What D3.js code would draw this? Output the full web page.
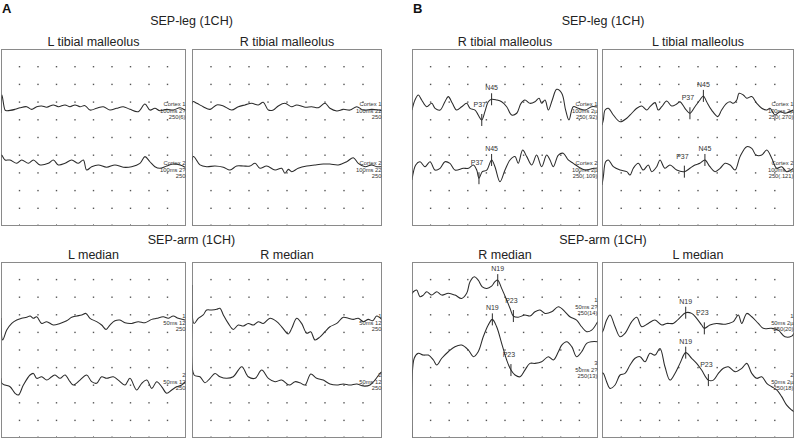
<!DOCTYPE html>
<html><head><meta charset="utf-8">
<script src="https://cdn.jsdelivr.net/npm/d3@7"></script>
<style>body{margin:0;background:#fff}svg{display:block;font-family:"Liberation Sans",Arial,sans-serif}</style>
</head><body><svg id="c" width="795" height="440"></svg>
<script>
// ---------- DATA (sweep % of window, amplitude in % of panel height) ----------
const figureLetters = ["A", "B"];
const sectionTitles = ["SEP-leg (1CH)", "SEP-arm (1CH)"];
const panelTitlesA = [["L tibial malleolus", "R tibial malleolus"], ["L median", "R median"]];
const panelTitlesB = [["R tibial malleolus", "L tibial malleolus"], ["R median", "L median"]];

const A_leg_L_1 = [[0,63.8],[0.5,74.0],[2.2,65.5],[3.1,65.1],[7.6,65.9],[10.3,66.8],[13.9,67.4],[16.6,65.9],[19.3,67.4],[22.0,67.8],[24.7,67.1],[28.3,68.4],[31.0,67.4],[34.6,68.4],[37.3,67.4],[40.0,68.4],[42.7,67.4],[45.4,68.0],[48.1,65.5],[51.7,66.5],[55.3,67.4],[58.9,65.5],[62.5,66.5],[66.1,67.4],[69.7,65.9],[74.2,64.6],[77.8,68.9],[80.5,65.5],[83.2,66.5],[85.9,65.1],[89.6,65.9],[93.1,65.5],[96.8,66.8],[99.5,65.5]];
const A_leg_L_2 = [[0,31.6],[0.3,40.1],[2.2,37.3],[4.9,37.3],[8.5,35.4],[11.2,37.3],[14.8,35.4],[17.5,37.3],[21.1,34.5],[25.6,35.4],[28.3,37.3],[31.0,34.5],[34.6,35.4],[38.2,37.3],[41.8,35.4],[44.5,37.3],[46.3,31.6],[49.0,33.5],[52.6,34.5],[57.1,33.2],[61.6,34.5],[66.1,33.2],[70.6,33.5],[75.1,35.4],[77.8,39.2],[80.5,36.3],[83.2,33.5],[85.9,32.6],[89.6,33.9],[93.1,35.0],[96.8,34.5],[99.5,33.2]];
const A_leg_R_1 = [[0,37.3],[0.4,70.2],[2.5,69.3],[5.9,67.4],[9.5,65.9],[13.0,68.4],[16.5,67.8],[20.9,65.5],[24.4,67.4],[27.9,68.4],[31.4,69.3],[34.9,68.4],[37.5,69.9],[40.2,65.5],[42.8,65.5],[45.4,67.8],[48.9,69.3],[52.5,67.4],[55.1,68.4],[59.5,67.1],[63.0,67.4],[66.5,66.8],[70.0,69.3],[72.6,66.5],[76.2,65.0],[79.6,65.9],[83.2,65.5],[86.7,67.4],[90.2,65.5],[94.6,65.9],[98.0,65.5],[99.8,65.1]];
const A_leg_R_2 = [[0,-5],[0.7,39.2],[4.2,34.5],[7.7,33.5],[12.1,33.9],[16.5,33.2],[20.0,31.6],[23.5,33.9],[27.0,33.9],[30.5,33.9],[33.2,35.4],[35.8,32.6],[39.3,33.9],[43.7,31.6],[47.2,32.6],[48.9,29.8],[50.7,32.0],[52.5,30.7],[55.9,32.6],[60.4,33.9],[64.7,34.5],[69.1,35.0],[72.6,35.0],[77.0,34.5],[81.4,36.3],[84.9,38.6],[87.5,35.4],[91.1,33.5],[94.6,34.5],[97.2,33.5],[99.8,33.5]];
const A_arm_L_1 = [[0,68.2],[0.9,55.7],[3.1,61.3],[5.8,65.1],[8.5,67.0],[11.2,68.0],[13.9,68.6],[15.7,69.3],[17.5,68.0],[19.3,68.9],[22.0,65.1],[24.7,66.1],[28.3,64.2],[31.9,65.1],[35.5,66.6],[38.2,68.6],[40.9,69.3],[43.6,69.9],[45.9,70.8],[48.1,68.0],[51.7,66.1],[54.4,64.2],[56.8,61.7],[58.9,64.2],[61.6,66.6],[64.3,67.0],[67.0,65.5],[70.6,65.1],[74.2,66.1],[77.8,65.5],[81.5,67.4],[84.2,68.0],[87.7,68.9],[90.4,68.0],[93.1,69.3],[95.8,68.0],[99.5,67.0]];
const A_arm_L_2 = [[0,34.0],[0.4,31.1],[2.2,30.1],[4.9,29.1],[7.6,25.4],[9.4,24.4],[12.1,30.1],[15.7,35.8],[17.5,36.7],[19.3,33.9],[22.0,34.8],[24.7,32.9],[27.4,34.8],[29.2,35.8],[31.9,33.9],[34.6,35.8],[37.3,32.0],[39.1,30.1],[42.7,32.9],[46.3,35.8],[49.0,32.0],[51.7,31.1],[54.4,34.8],[57.1,33.9],[60.7,34.8],[63.4,32.9],[67.0,30.1],[69.7,33.9],[73.3,27.3],[76.1,31.1],[78.8,32.9],[81.5,28.2],[84.2,32.0],[86.9,29.1],[89.6,25.4],[92.3,27.3],[95.0,29.1],[97.7,30.1],[99.8,32.0]];
const A_arm_R_1 = [[0,86.9],[1.1,65.1],[3.3,68.0],[5.9,69.9],[7.7,72.7],[10.4,72.7],[13.0,73.1],[14.7,73.7],[16.5,69.9],[19.1,65.1],[21.7,61.7],[24.4,64.2],[27.0,63.6],[29.6,65.1],[32.3,64.2],[34.9,66.1],[37.5,65.1],[41.1,68.0],[44.6,66.1],[47.2,63.2],[50.7,59.1],[52.5,62.3],[55.1,68.0],[57.7,65.1],[60.4,59.5],[62.5,60.4],[64.7,55.7],[67.4,57.5],[70.0,60.4],[72.6,63.2],[76.2,65.1],[79.6,68.6],[82.3,68.0],[84.9,67.4],[87.5,68.0],[90.2,66.1],[92.8,67.4],[95.1,66.6],[97.2,69.3],[99.8,67.4]];
const A_arm_R_2 = [[0,64.2],[1.1,35.8],[4.2,34.8],[6.8,31.4],[9.5,33.9],[12.1,36.7],[14.7,34.8],[18.3,33.9],[21.7,34.8],[26.2,40.5],[29.6,34.8],[33.2,33.9],[36.7,38.6],[40.2,33.9],[43.7,32.0],[47.2,32.9],[51.2,30.1],[54.2,32.0],[56.8,31.4],[59.5,30.1],[62.5,36.4],[65.6,33.9],[69.1,32.9],[72.6,30.7],[76.2,30.1],[79.6,30.7],[83.2,30.1],[86.7,30.7],[90.2,29.5],[93.7,30.1],[96.3,32.9],[98.9,36.7],[99.8,37.5]];

const B_leg_R_1 = [[0,65.5],[1.6,71.2],[3.4,74.0],[5.2,71.2],[7.9,67.4],[10.6,69.3],[12.4,66.5],[15.1,65.5],[17.7,70.2],[19.5,73.1],[21.7,69.3],[24.0,65.5],[26.7,67.4],[29.4,69.3],[31.2,66.5],[33.9,65.5],[35.6,62.7],[37.5,59.9],[39.2,64.6],[41.0,70.2],[42.8,71.6],[45.5,71.2],[48.2,70.2],[50.9,67.4],[53.6,62.7],[56.3,63.7],[58.6,69.3],[60.7,71.2],[63.4,69.3],[66.1,70.2],[68.3,72.2],[69.7,69.3],[71.5,71.2],[73.3,65.5],[75.4,71.2],[77.8,77.2],[80.5,75.0],[82.6,65.5],[84.4,59.9],[86.7,67.4],[89.4,66.5],[93.0,65.5],[96.6,67.4],[99.5,67.2]];
const B_leg_R_2 = [[0,26.0],[2.0,34.5],[4.3,36.3],[7.0,33.5],[9.7,36.3],[12.4,31.6],[15.1,32.6],[17.7,36.3],[20.4,35.4],[23.1,31.6],[27.6,32.6],[30.3,32.6],[33.0,34.5],[34.8,31.6],[36.0,27.0],[37.8,30.7],[40.2,31.6],[42.8,37.3],[44.6,33.5],[47.3,25.0],[50.0,31.6],[52.7,37.3],[55.4,39.2],[57.1,35.4],[59.5,42.9],[61.7,39.2],[64.4,34.5],[67.0,40.1],[69.7,33.5],[72.4,40.1],[74.2,37.3],[76.0,33.5],[78.7,40.1],[81.3,41.1],[84.0,37.3],[86.7,35.4],[89.4,33.5],[93.0,31.6],[97.8,32.6],[99.7,32.8]];
const B_leg_L_1 = [[0,57],[0.7,59.9],[1.6,65.5],[3.3,66.5],[5.9,62.7],[9.4,58.9],[12.9,60.9],[15.5,63.7],[18.1,66.5],[20.7,67.8],[23.3,65.5],[25.0,67.4],[27.6,69.7],[29.3,65.5],[31.1,67.4],[33.7,70.6],[36.3,67.8],[38.9,68.9],[40.6,70.2],[43.2,66.5],[45.8,63.7],[48.4,67.4],[51.0,71.2],[52.8,73.5],[54.5,70.2],[57.1,65.5],[60.3,61.8],[62.3,65.5],[64.9,69.3],[66.7,70.2],[68.4,69.3],[70.2,71.2],[71.4,75.0],[73.6,74.0],[75.4,72.2],[78.0,73.1],[80.6,69.3],[83.2,66.5],[85.8,65.5],[87.5,66.5],[90.1,62.7],[92.7,64.6],[95.3,63.7],[99.6,65.5]];
const B_leg_L_2 = [[0,23.2],[0.7,27.9],[1.9,36.3],[3.3,37.3],[5.9,33.5],[9.4,31.6],[12.9,30.7],[14.6,28.8],[16.3,32.6],[18.9,35.4],[21.5,31.6],[24.1,34.5],[25.9,30.7],[28.5,33.5],[30.2,37.3],[32.8,32.6],[35.4,34.5],[38.9,31.6],[42.9,30.7],[45.8,32.6],[48.4,34.5],[51.0,35.4],[53.6,37.3],[56.2,33.5],[58.9,30.7],[61.5,32.6],[64.1,35.4],[66.7,34.5],[69.3,31.6],[71.9,39.2],[75.4,44.8],[78.0,43.9],[80.2,40.1],[83.2,40.1],[85.8,42.9],[88.4,38.3],[91.0,32.6],[93.6,33.5],[96.2,30.7],[99.6,32.6]];
const B_arm_R_1 = [[0,82],[0.7,83.1],[2.5,84.1],[4.3,80.3],[6.1,81.2],[7.9,83.1],[10.6,81.2],[13.3,83.1],[16.0,81.2],[19.5,82.2],[23.1,81.2],[26.7,79.3],[29.4,82.2],[31.2,88.8],[33.5,91.6],[35.6,89.7],[37.8,85.9],[40.2,85.0],[42.8,86.3],[44.6,88.8],[46.1,89.7],[48.2,85.0],[50.9,78.4],[52.7,73.7],[54.5,69.3],[57.1,68.6],[60.7,69.9],[63.4,69.3],[66.1,71.7],[68.8,72.7],[71.5,70.8],[75.1,71.7],[78.7,74.6],[82.3,71.7],[84.9,68.9],[88.5,67.0],[91.2,63.2],[93.9,60.4],[96.6,61.3],[99.8,66.1]];
const B_arm_R_2 = [[0,-5],[1.2,45.3],[3.4,48.1],[6.1,47.1],[8.8,47.1],[11.5,44.3],[13.3,41.5],[16.0,45.3],[19.5,49.0],[23.1,51.9],[26.7,52.8],[30.3,50.0],[33.0,46.2],[35.6,49.0],[38.3,57.5],[41.0,64.2],[43.2,67.4],[45.5,63.2],[48.2,53.8],[50.9,44.3],[53.2,38.6],[55.4,35.8],[58.1,34.8],[60.7,38.6],[63.4,42.4],[66.1,42.4],[69.7,43.3],[73.3,46.2],[76.0,44.3],[78.7,49.0],[80.5,52.8],[83.2,54.7],[85.9,51.9],[88.5,46.2],[91.2,49.0],[93.9,53.8],[96.6,54.7],[99.8,54.7]];
const B_arm_L_1 = [[0,60],[0.7,61.3],[2.4,67.0],[4.2,69.9],[6.8,63.2],[9.4,57.5],[12.0,59.5],[15.5,66.1],[18.1,68.6],[20.7,63.2],[24.1,65.1],[27.6,67.0],[31.1,64.2],[33.7,65.1],[37.1,65.1],[39.7,67.4],[43.6,71.2],[46.7,70.8],[49.3,68.0],[51.9,64.2],[53.3,62.3],[56.2,64.2],[59.7,65.1],[63.2,64.6],[65.8,65.1],[68.4,66.1],[71.0,69.9],[72.8,65.1],[75.4,70.8],[78.0,68.9],[81.4,65.1],[84.0,62.3],[88.4,62.3],[91.8,61.3],[95.3,57.5],[98.8,57.9],[100,59.5]];
const B_arm_L_2 = [[0,37],[0.7,36.7],[2.4,32.0],[4.2,28.2],[6.8,30.1],[9.4,35.8],[12.0,36.7],[14.6,41.5],[17.2,45.3],[19.8,46.2],[22.4,43.3],[25.0,48.1],[27.6,47.1],[30.2,50.9],[32.8,40.5],[35.4,32.9],[38.0,36.7],[40.6,42.4],[43.6,48.5],[46.7,45.3],[49.3,42.4],[51.9,38.6],[55.4,32.9],[58.0,32.9],[60.6,36.7],[63.2,39.6],[65.8,40.5],[69.3,37.7],[72.8,39.6],[75.4,42.4],[78.0,36.7],[80.6,33.9],[83.2,34.8],[85.8,31.1],[88.4,29.1],[91.0,27.3],[93.6,23.5],[96.2,18.7],[98.8,15.9],[100,14.9]];

// peak markers [label, sweep%, amplitude]
const B_leg_R_1_peaks = [["P37",37.5,59.9],["N45",42.8,71.6]];
const B_leg_R_2_peaks = [["P37",36.0,27.0],["N45",42.8,37.3]];
const B_leg_L_1_peaks = [["P37",45.8,63.7],["N45",52.8,73.5]];
const B_leg_L_2_peaks = [["P37",42.9,30.7],["N45",53.6,37.3]];
const B_arm_R_1_peaks = [["N19",46.1,89.7],["P23",54.5,69.3]];
const B_arm_R_2_peaks = [["N19",43.2,67.4],["P23",53.2,38.6]];
const B_arm_L_1_peaks = [["N19",43.6,71.2],["P23",53.3,62.3]];
const B_arm_L_2_peaks = [["N19",43.6,48.5],["P23",55.4,32.9]];

// channel annotation text and channel reference level
const A_leg_L_notes = [["Cortex 1","100ms 2?","250(6)"],["Cortex 2","100ms 2?","250"]];
const A_leg_R_notes = [["Cortex 1","100ms 22","250"],["Cortex 2","100ms 22","250"]];
const A_arm_L_notes = [["1","50ms 12","250"],["2","50ms 12","250"]];
const A_arm_R_notes = [["1","50ms 12","250"],["2","50ms 12","250"]];
const B_leg_R_notes = [["Cortex 1","100ms 2µ","250(.92)"],["Cortex 2","100ms 2µ","250(.109)"]];
const B_leg_L_notes = [["Cortex 1","100ms 2µ","250(.270)"],["Cortex 2","100ms 2µ","250(.121)"]];
const B_arm_R_notes = [["1","50ms 2?","250(14)"],["3","50ms 2?","250(13)"]];
const B_arm_L_notes = [["1","50ms 2µ","250(20)"],["2","50ms 2µ","250(18)"]];
const refLevels = [[67.8,34.5],[68.2,34.6],[77.2,41.5]];

// ---------- LAYOUT ----------
const colEdges = [[1,186],[192,382],[412,598],[602,794]];
const rowEdges = [[49,226],[262,438]];
const ink = "#2b2b2b";

const panels = [
  {c:0,r:0,title:panelTitlesA[0][0],traces:[A_leg_L_1,A_leg_L_2],notes:A_leg_L_notes,peaks:[[],[]],ref:refLevels[0]},
  {c:1,r:0,title:panelTitlesA[0][1],traces:[A_leg_R_1,A_leg_R_2],notes:A_leg_R_notes,peaks:[[],[]],ref:refLevels[0]},
  {c:0,r:1,title:panelTitlesA[1][0],traces:[A_arm_L_1,A_arm_L_2],notes:A_arm_L_notes,peaks:[[],[]],ref:refLevels[1]},
  {c:1,r:1,title:panelTitlesA[1][1],traces:[A_arm_R_1,A_arm_R_2],notes:A_arm_R_notes,peaks:[[],[]],ref:refLevels[1]},
  {c:2,r:0,title:panelTitlesB[0][0],traces:[B_leg_R_1,B_leg_R_2],notes:B_leg_R_notes,peaks:[B_leg_R_1_peaks,B_leg_R_2_peaks],ref:refLevels[0]},
  {c:3,r:0,title:panelTitlesB[0][1],traces:[B_leg_L_1,B_leg_L_2],notes:B_leg_L_notes,peaks:[B_leg_L_1_peaks,B_leg_L_2_peaks],ref:refLevels[0]},
  {c:2,r:1,title:panelTitlesB[1][0],traces:[B_arm_R_1,B_arm_R_2],notes:B_arm_R_notes,peaks:[B_arm_R_1_peaks,B_arm_R_2_peaks],ref:refLevels[2]},
  {c:3,r:1,title:panelTitlesB[1][1],traces:[B_arm_L_1,B_arm_L_2],notes:B_arm_L_notes,peaks:[B_arm_L_1_peaks,B_arm_L_2_peaks],ref:refLevels[1]}
];

const svg = d3.select("#c");
svg.append("rect").attr("width",795).attr("height",440).attr("fill","#fff");

// figure letters & section titles
[[0,2],[1,413]].forEach(([i,x]) => {
  svg.append("text").attr("x",x).attr("y",12.5).attr("font-size",13).attr("font-weight","bold")
    .attr("fill","#111").text(figureLetters[i]);
});
[[0,1],[2,3]].forEach(cols => {
  const cx = (colEdges[cols[0]][0] + colEdges[cols[1]][1]) / 2;
  [25, 244].forEach((y,i) => {
    svg.append("text").attr("x",cx).attr("y",y).attr("text-anchor","middle")
      .attr("font-size",12.5).attr("fill","#222").text(sectionTitles[i]);
  });
});

panels.forEach((p, pi) => {
  const [x0,x1] = colEdges[p.c], [y0,y1] = rowEdges[p.r];
  const x = d3.scaleLinear().domain([0,100]).range([x0,x1]);
  const y = d3.scaleLinear().domain([0,100]).range([y1,y0]);
  const g = svg.append("g");

  g.append("text").attr("x",(x0+x1)/2).attr("y",y0-3.5).attr("text-anchor","middle")
    .attr("font-size",12.5).attr("fill","#222").text(p.title);

  g.append("rect").attr("x",x0+0.5).attr("y",y0+0.5).attr("width",x1-x0-1).attr("height",y1-y0-1)
    .attr("fill","none").attr("stroke","#8a8a8a").attr("stroke-width",1);

  // dot grid
  const ticks = d3.range(10,100,10);
  ticks.forEach(tx => ticks.forEach(ty => {
    g.append("rect").attr("x",x(tx)-0.7).attr("y",y(ty)-0.7).attr("width",1.4).attr("height",1.4).attr("fill","#555");
  }));
  ticks.forEach(tx => {
    g.append("rect").attr("x",x(tx)-0.5).attr("y",y1-2).attr("width",1).attr("height",1).attr("fill","#999");
  });

  const cid = "clip"+pi;
  svg.append("clipPath").attr("id",cid).append("rect").attr("x",x0+0.5).attr("y",y0+0.5).attr("width",x1-x0-1).attr("height",y1-y0-1);

  const line = d3.line().x(d=>x(d[0])).y(d=>y(d[1])).curve(d3.curveCatmullRom.alpha(0.5));
  p.traces.forEach((tr, ti) => {
    g.append("path").attr("clip-path",`url(#${cid})`).attr("d",line(tr))
      .attr("fill","none").attr("stroke",ink).attr("stroke-width",1.05).attr("stroke-linejoin","round");

    // channel notes
    const ry = y(p.ref[ti]);
    const notes = p.notes[ti];
    [0,7,13].forEach((dy,k) => {
      g.append("text").attr("x",x1-0.5).attr("y",ry+dy).attr("text-anchor","end")
        .attr("font-size",5.8).attr("fill","#333").text(notes[k]);
    });

    // peak markers
    p.peaks[ti].forEach(([lab,t,v]) => {
      const px = x(t), py = y(v);
      g.append("line").attr("x1",px).attr("x2",px).attr("y1",py-6).attr("y2",py+6)
        .attr("stroke",ink).attr("stroke-width",1);
      const isP = lab[0] === "P";
      g.append("text").attr("x",px + (isP ? -2 : 0)).attr("y",py-(isP?13:9)).attr("text-anchor","middle")
        .attr("font-size",7).attr("fill","#333").text(lab);
    });
  });
});
</script></body></html>
